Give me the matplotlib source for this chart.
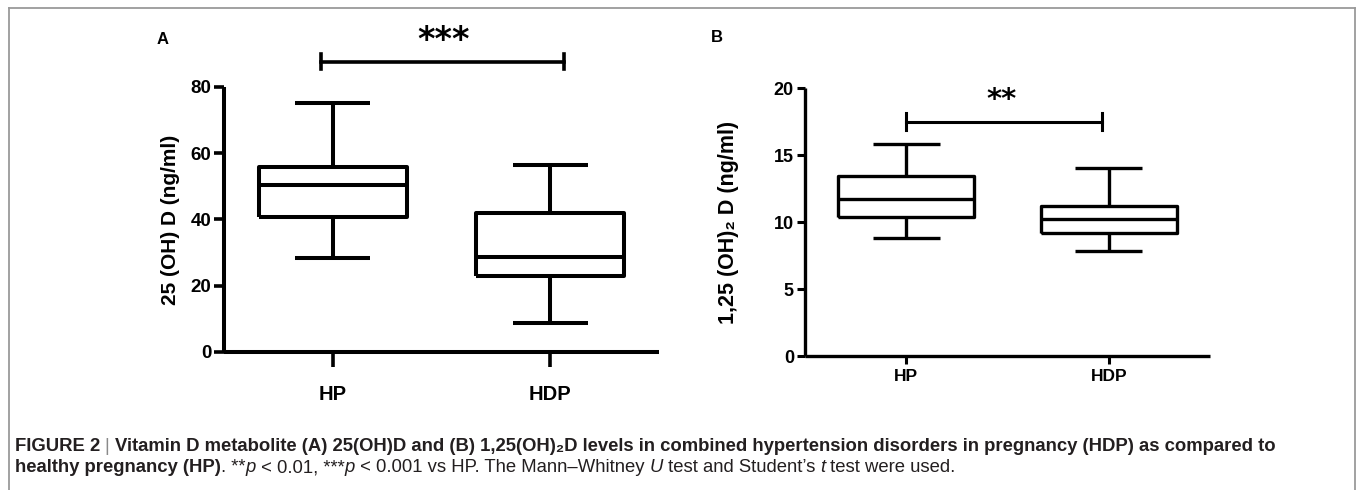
import matplotlib
matplotlib.use("Agg")
import matplotlib.pyplot as plt
from matplotlib.transforms import IdentityTransform
from matplotlib.lines import Line2D

plt.rcParams["font.family"] = ["Liberation Sans", "DejaVu Sans"]

# data: whislo, q1, med, q3, whishi
groups = ["HP", "HDP"]
box_a_hp = [28.5, 40.9, 50.3, 55.8, 75.2]
box_a_hdp = [8.8, 23.0, 28.8, 42.1, 56.4]
box_b_hp = [8.8, 10.4, 11.7, 13.4, 15.8]
box_b_hdp = [7.8, 9.2, 10.2, 11.2, 14.0]
ticks_a = [0, 20, 40, 60, 80]
ticks_b = [0, 5, 10, 15, 20]
sig_a = "***"
sig_b = "**"

W, H = 1358, 490
INK = "black"


def stats(vals, label):
    lo, q1, med, q3, hi = vals
    return dict(whislo=lo, q1=q1, med=med, q3=q3, whishi=hi, fliers=[], label=label)


def boxpanel(ax, boxes, ticks, lw, widths, capw):
    st = [stats(v, g) for v, g in zip(boxes, groups)]
    line = dict(color=INK, linewidth=lw, solid_capstyle="butt")
    ax.bxp(st, positions=[1, 2], widths=widths, showfliers=False,
           boxprops=line, whiskerprops=line, capprops=line, medianprops=line,
           capwidths=capw)
    ax.set_xlim(0.5, 2.5)
    ax.set_ylim(ticks[0], ticks[-1])
    ax.set_yticks(ticks)
    for s in ["top", "right"]:
        ax.spines[s].set_visible(False)
    for s in ["left", "bottom"]:
        ax.spines[s].set_linewidth(lw)
        ax.spines[s].set_capstyle("butt")


def bracket(ax, x0, x1, y, dy, lw):
    ax.plot([x0, x1], [y, y], color=INK, lw=lw, clip_on=False)
    ax.plot([x0, x0], [y - dy, y + dy], color=INK, lw=lw, clip_on=False)
    ax.plot([x1, x1], [y - dy, y + dy], color=INK, lw=lw, clip_on=False)


fig = plt.figure(figsize=(W / 100, H / 100), dpi=100)

# panel A
axA = fig.add_axes([224 / W, 1 - 352 / H, 435 / W, 265 / H])
boxpanel(axA, [box_a_hp, box_a_hdp], ticks_a, 2.9, 0.68, 0.345)
axA.tick_params(axis="y", length=7, width=2.6, pad=2, labelsize=13.5)
axA.tick_params(axis="x", length=11, width=2.6, pad=13, labelsize=14.5)
for lab in axA.get_xticklabels() + axA.get_yticklabels():
    lab.set_fontweight("bold")
axA.set_ylabel("25 (OH) D (ng/ml)", fontsize=15, fontweight="bold", labelpad=8)
bracket(axA, 0.945, 2.065, 87.6, 2.3, 2.6)
axA.text(1.51, 94.0, sig_a, ha="center", va="center", fontsize=24,
         fontweight="bold", family="DejaVu Sans", clip_on=False)
fig.text(163 / W, 1 - 40 / H, "A", ha="center", va="center", fontsize=12,
         fontweight="bold")

# panel B
axB = fig.add_axes([805 / W, 1 - 356 / H, 405 / W, 268 / H])
boxpanel(axB, [box_b_hp, box_b_hdp], ticks_b, 2.4, 0.67, 0.33)
axB.tick_params(axis="y", length=6, width=2.2, pad=2, labelsize=13)
axB.tick_params(axis="x", length=6, width=2.2, pad=3, labelsize=12.5)
for lab in axB.get_xticklabels() + axB.get_yticklabels():
    lab.set_fontweight("bold")
axB.set_ylabel("1,25 (OH)\u2082 D (ng/ml)", fontsize=15.5, fontweight="bold",
               labelpad=25)
bracket(axB, 1.0, 1.965, 17.5, 0.6, 2.2)
axB.text(1.47, 19.1, sig_b, ha="center", va="center", fontsize=21,
         fontweight="bold", family="DejaVu Sans", clip_on=False)
fig.text(717 / W, 1 - 38 / H, "B", ha="center", va="center", fontsize=12,
         fontweight="bold")

# frame around the figure
fcol = "#9a9a9a"
for xs, ys in [([9, 1355], [H - 8, H - 8]), ([9, 9], [H - 8, 0]),
               ([1355, 1355], [H - 8, 0])]:
    fig.add_artist(Line2D(xs, ys, transform=IdentityTransform(), color=fcol,
                          lw=1.3))

# caption, drawn piece by piece
cap = "#231f20"
renderer = fig.canvas.get_renderer()


def runs(x, y, parts):
    for s, kw in parts:
        t = fig.text(x, y, s, transform=IdentityTransform(), va="baseline",
                     fontsize=13.3, color=kw.pop("color", cap), **kw)
        x = t.get_window_extent(renderer).x1


B_ = dict(fontweight="bold")
R_ = dict()
I_ = dict(style="italic")
runs(15, H - 451, [
    ("FIGURE 2 ", dict(B_)),
    ("| ", dict(color="#8a8a8a")),
    ("Vitamin D metabolite (A) 25(OH)D and (B) 1,25(OH)\u2082D levels in combined "
     "hypertension disorders in pregnancy (HDP) as compared to", dict(B_)),
])
runs(15, H - 472, [
    ("healthy pregnancy (HP)", dict(B_)),
    (". **", dict(R_)),
    ("p", dict(I_)),
    (" < 0.01, ***", dict(R_)),
    ("p", dict(I_)),
    (" < 0.001 vs HP. The Mann\u2013Whitney ", dict(R_)),
    ("U", dict(I_)),
    (" test and Student\u2019s ", dict(R_)),
    ("t", dict(I_)),
    (" test were used.", dict(R_)),
])

fig.savefig("out.png", dpi=100)
